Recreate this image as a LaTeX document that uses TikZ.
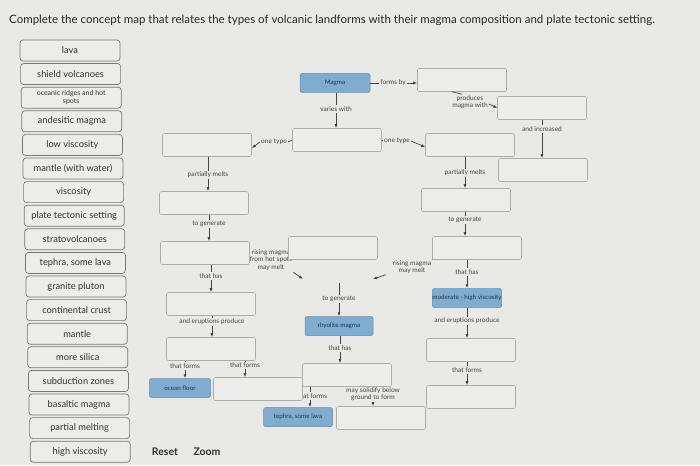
\documentclass[tikz,border=0pt]{standalone}
\usepackage{fontspec}
\setmainfont{Lato}
\usetikzlibrary{positioning, arrows.meta}
\usepackage{xcolor}

\definecolor{paper}{RGB}{233,233,229}
\definecolor{bankline}{RGB}{120,120,120}
\definecolor{bankfill}{RGB}{236,236,233}
\definecolor{blankline}{RGB}{172,172,170}
\definecolor{blankfill}{RGB}{237,237,235}
\definecolor{conceptfill}{RGB}{128,173,207}
\definecolor{conceptline}{RGB}{98,142,178}
\definecolor{conceptink}{RGB}{28,52,80}
\definecolor{linkink}{RGB}{68,68,68}

\tikzset{
    bank/.style={draw=bankline, fill=bankfill, line width=0.7pt, rounded corners=3pt,
        minimum width=100pt, minimum height=21pt, inner sep=1pt, align=center, text=black!80},
    blank/.style={draw=blankline, fill=blankfill, line width=0.6pt, rounded corners=2pt,
        minimum width=89pt, minimum height=23pt},
    concept/.style={draw=conceptline, fill=conceptfill, line width=0.5pt, rounded corners=2pt,
        minimum width=69pt, minimum height=19pt, inner sep=1pt, text=conceptink,
        font=\fontsize{6.3}{7}\selectfont},
    linklabel/.style={inner sep=1pt, align=center, text=linkink,
        font=\fontsize{6.6}{7.2}\selectfont},
    link/.style={draw=linkink, line width=0.7pt},
    linkarrow/.style={link, -{Latex[length=4pt, width=3pt]}}
}

\begin{document}
\begin{tikzpicture}[x=1pt, y=-1pt]
    % Page
    \fill[paper] (0,0) rectangle (700,465);
    \useasboundingbox (0,0) rectangle (700,465);

    % Task
    \node[anchor=west, inner sep=0pt, font=\fontsize{11.5}{13}\selectfont, text=black!85] (task) at (9,20)
        {Complete the concept map that relates the types of volcanic landforms with their magma composition and plate tectonic setting.};

    % Word bank
    \foreach \term/\fs [count=\i from 0] in {lava/9.3, shield volcanoes/9.3, oceanic ridges and hot\\spots/7,
        andesitic magma/9.3, low viscosity/9.3, mantle (with water)/9.3, viscosity/9.3, plate tectonic setting/9.3,
        stratovolcanoes/9.3, {tephra, some lava}/9.3, granite pluton/9.3, continental crust/9.3, mantle/9.3,
        more silica/9.3, subduction zones/9.3, basaltic magma/9.3, partial melting/9.3, high viscosity/9.3}
        \node[bank, font=\fontsize{\fs}{7.5}\selectfont] (bank\i) at ({70+0.6*\i}, {50.5+23.6*\i}) {\term};

    \node[font=\fontsize{10.5}{12}\selectfont\bfseries, text=black!80] (reset) at (165,452) {Reset};
    \node[font=\fontsize{10.5}{12}\selectfont\bfseries, text=black!80] (zoom) at (207,452) {Zoom};

    % Labels that sit under boxes
    \node[linklabel] (lrisingL) at (271,260) {rising magma\\from hot spots\\may melt};
    \node[linklabel] (lformsM) at (312,396) {that forms};

    % Boxes: top
    \node[concept, minimum width=70pt] (magma) at (335,83) {Magma};
    \node[blank] (formsbox) at (462,80) {};
    \node[blank] (producebox) at (542,108) {};
    \node[blank] (increasebox) at (543,170) {};
    \node[blank] (typemid) at (337,140) {};
    \node[blank] (typeright) at (470,145) {};
    \node[blank] (typeleft) at (207,145) {};

    % Boxes: left branch
    \node[blank] (meltleft) at (204,203) {};
    \node[blank] (genleft) at (205,253) {};
    \node[blank] (hasleft) at (211,304) {};
    \node[blank] (erupleft) at (211,349) {};
    \node[concept, minimum width=61pt] (ocean) at (180,388) {ocean floor};
    \node[blank] (formleft) at (258,389) {};

    % Boxes: middle branch
    \node[blank] (hotspot) at (333,248) {};
    \node[concept, minimum width=68pt] (rhyolite) at (339,326) {rhyolite magma};
    \node[blank] (solidmid) at (347,375) {};
    \node[concept] (tephra) at (298,417) {tephra, some lava};
    \node[blank] (groundbox) at (381,418) {};

    % Boxes: right branch
    \node[blank] (meltright) at (466,200) {};
    \node[blank] (genright) at (477,248) {};
    \node[concept, inner sep=0pt] (modhigh) at (467,298) {moderate - high viscosity};
    \node[blank] (erupright) at (471,350) {};
    \node[blank] (formright) at (471,397) {};

    % Link labels
    \node[linklabel] (lforms) at (393,83) {forms by};
    \node[linklabel] (lproduce) at (470,102) {produces\\magma with};
    \node[linklabel] (lincrease) at (542,129) {and increased};
    \node[linklabel] (lvaries) at (336,109) {varies with};
    \node[linklabel] (ltypeR) at (397,141) {one type};
    \node[linklabel] (ltypeL) at (274,142) {one type};
    \node[linklabel] (lmeltL) at (208,175) {partially melts};
    \node[linklabel] (lgenL) at (209,224) {to generate};
    \node[linklabel] (lhasL) at (211,276) {that has};
    \node[linklabel] (lerupL) at (212,322) {and eruptions produce};
    \node[linklabel] (lformsA) at (185,366) {that forms};
    \node[linklabel] (lformsB) at (245,365) {that forms};
    \node[linklabel] (lrisingR) at (412,267) {rising magma\\may melt};
    \node[linklabel] (lgenM) at (339,299) {to generate};
    \node[linklabel] (lhasM) at (340,348) {that has};
    \node[linklabel] (lsolid) at (373,394) {may solidify below\\ground to form};
    \node[linklabel] (lmeltR) at (465,173) {partially melts};
    \node[linklabel] (lgenR) at (465,220) {to generate};
    \node[linklabel] (lhasR) at (467,272) {that has};
    \node[linklabel] (lerupR) at (467,321) {and eruptions produce};
    \node[linklabel] (lformsR) at (467,370) {that forms};

    % Where the rising magma melts
    \coordinate (meltL) at (303,279);
    \coordinate (meltR) at (373,279);
    \coordinate (melt) at (339,283);

    % Links: top
    \draw[link] (magma) -- (lforms);
    \draw[linkarrow] (lforms.east) -- (lforms.east -| formsbox.west);
    \draw[link] ([xshift=-10pt]formsbox.south) -- ([xshift=-8pt]lproduce.north);
    \draw[linkarrow] ([yshift=-2pt]lproduce.east) -- (producebox.west);
    \draw[link] (lincrease |- producebox.south) -- (lincrease);
    \draw[linkarrow] (lincrease) -- (lincrease |- increasebox.north);
    \draw[link] (lvaries |- magma.south) -- (lvaries);
    \draw[linkarrow] (lvaries) -- (lvaries |- typemid.north);
    \draw[link] (typemid.east) -- (ltypeR.west);
    \draw[linkarrow] (ltypeR.east) -- ([yshift=-2pt]typeright.west);
    \draw[link] (typemid.west) -- (ltypeL.east);
    \draw[linkarrow] (ltypeL.west) -- ([yshift=-3pt]typeleft.east);

    % Links: left branch
    \draw[link] (lmeltL |- typeleft.south) -- (lmeltL);
    \draw[linkarrow] (lmeltL) -- (lmeltL |- meltleft.north);
    \draw[link] (lgenL |- meltleft.south) -- (lgenL);
    \draw[linkarrow] (lgenL) -- (lgenL |- genleft.north);
    \draw[link] (lhasL |- genleft.south) -- (lhasL);
    \draw[linkarrow] (lhasL) -- (lhasL |- hasleft.north);
    \draw[link] (lerupL |- hasleft.south) -- (lerupL);
    \draw[linkarrow] (lerupL) -- (lerupL |- erupleft.north);
    \draw[link] (lformsA |- erupleft.south) -- (lformsA);
    \draw[linkarrow] (lformsA) -- (lformsA |- ocean.north);
    \draw[link] (lformsB |- erupleft.south) -- (lformsB);
    \draw[linkarrow] (lformsB) -- (lformsB |- formleft.north);
    \draw[linkarrow] ([yshift=-1pt]lrisingL.south east) -- (meltL);

    % Links: middle branch
    \draw[link] (genright.south west) -- (lrisingR.north east);
    \draw[linkarrow] ([xshift=-6pt]lrisingR.south west) -- (meltR);
    \draw[link] (melt) -- (lgenM);
    \draw[linkarrow] (lgenM) -- (lgenM |- rhyolite.north);
    \draw[link] (lhasM |- rhyolite.south) -- (lhasM);
    \draw[linkarrow] (lhasM) -- (lhasM |- solidmid.north);
    \draw[link] ([xshift=-2pt]lformsM.north |- solidmid.south) -- ([xshift=-2pt]lformsM.north);
    \draw[linkarrow] ([xshift=-2pt]lformsM.south) -- ([xshift=-2pt]lformsM.south |- tephra.north);
    \draw[linkarrow] (lsolid) -- (lsolid |- groundbox.north);

    % Links: right branch
    \draw[link] (lmeltR |- typeright.south) -- (lmeltR);
    \draw[linkarrow] (lmeltR) -- (lmeltR |- meltright.north);
    \draw[link] (lgenR |- meltright.south) -- (lgenR);
    \draw[linkarrow] (lgenR) -- (lgenR |- genright.north);
    \draw[link] (lhasR |- genright.south) -- (lhasR);
    \draw[linkarrow] (lhasR) -- (lhasR |- modhigh.north);
    \draw[link] (lerupR |- modhigh.south) -- (lerupR);
    \draw[linkarrow] (lerupR) -- (lerupR |- erupright.north);
    \draw[link] (lformsR |- erupright.south) -- (lformsR);
    \draw[linkarrow] (lformsR) -- (lformsR |- formright.north);
\end{tikzpicture}
\end{document}
